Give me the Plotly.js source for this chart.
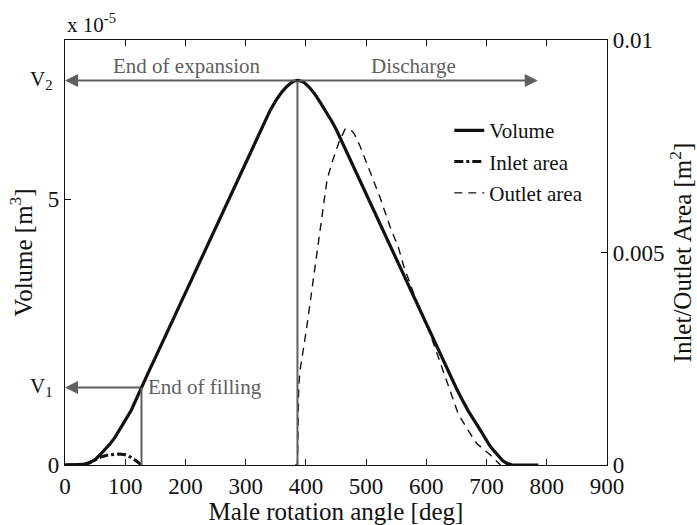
<!DOCTYPE html>
<html>
<head>
<meta charset="utf-8">
<script src="https://cdn.plot.ly/plotly-3.0.1.min.js"></script>
<style>
  html, body { margin: 0; padding: 0; background: #fff; }
  #chart { width: 697px; height: 525px; }
</style>
</head>
<body>
<div id="chart"></div>
<script>
// Male rotor angle [deg] and working-chamber volume [x 1e-5 m^3]
const volAngle = [0, 20, 30, 40, 50, 58, 67, 75, 83, 91, 100, 110, 118, 127, 140, 150, 200, 250, 300, 330, 340,
                  350, 360, 368, 375, 381, 386, 391, 397, 405, 415, 424, 435, 443, 451, 500, 550, 600, 640,
                  650, 660, 670, 684, 695, 705, 712, 720, 727, 734, 742, 750, 786];
const volume_e5 = [0, 0, 0.01, 0.04, 0.10, 0.19, 0.29, 0.40, 0.52, 0.66, 0.84, 1.03, 1.24, 1.46, 1.78, 2.02, 3.25,
                   4.47, 5.70, 6.43, 6.66, 6.86, 7.02, 7.12, 7.19, 7.23, 7.24, 7.23, 7.20, 7.12, 6.98, 6.82, 6.62,
                   6.47, 6.30, 5.10, 3.87, 2.65, 1.67, 1.44, 1.22, 1.01, 0.76, 0.54, 0.37, 0.27, 0.16, 0.08, 0.03,
                   0.005, 0, 0];

// Suction port open area [m^2]
const inletAngle = [0, 30, 40, 50, 60, 70, 80, 90, 100, 110, 118, 124, 127];
const inletArea  = [0, 0.00001, 0.00005, 0.00012, 0.00019, 0.00023, 0.00025, 0.00026, 0.00024, 0.00018,
                    0.0001, 0.00003, 0];

// Discharge port open area [m^2]
const outletAngle = [382, 386, 388, 390, 401, 412, 424, 435, 443, 450, 455, 460, 465, 470, 473, 477, 480, 490,
                     501, 510, 523, 540, 554, 562, 580, 606, 628, 653, 670, 684, 706, 723];
const outletArea  = [0, 0, 0.0018, 0.0022, 0.0032, 0.0043, 0.0056, 0.0067, 0.0071, 0.0074, 0.0076, 0.00775,
                     0.0079, 0.0079, 0.0079, 0.00785, 0.0078, 0.0075, 0.0071, 0.0068, 0.0063, 0.0056, 0.0051,
                     0.0047, 0.0040, 0.0031, 0.0022, 0.0012, 0.0008, 0.0005, 0.00024, 0];

// Key events of the cycle
const endFillingAngle = 127, V1 = 1.46;
const endExpansionAngle = 386, V2 = 7.24;
const dischargeEndAngle = 785;

const serif = 'Liberation Serif, Times New Roman, serif';
const grey = '#5f5f5f';
const ink = '#111';

const traces = [
  { x: volAngle, y: volume_e5, name: 'Volume', legendgroup: 'v', type: 'scatter', mode: 'lines',
    line: { color: ink, width: 3.2 } },
  { x: inletAngle, y: inletArea, name: 'Inlet area', legendgroup: 'i', yaxis: 'y2', type: 'scatter', mode: 'lines',
    line: { color: ink, width: 3, dash: 'dashdot' } },
  { x: outletAngle, y: outletArea, name: 'Outlet area', legendgroup: 'o', yaxis: 'y2', type: 'scatter', mode: 'lines',
    line: { color: ink, width: 1.4, dash: '8px,6px' } }
];

const shapes = [
  { type: 'line', xref: 'x', yref: 'y', x0: endFillingAngle, x1: endFillingAngle, y0: 0, y1: V1,
    line: { color: grey, width: 2 } },
  { type: 'line', xref: 'x', yref: 'y', x0: endExpansionAngle, x1: endExpansionAngle, y0: 0, y1: V2,
    line: { color: grey, width: 2 } }
];

const noteFont = { family: serif, size: 21, color: grey };
const labelFont = { family: serif, size: 21, color: ink };

const annotations = [
  // double arrow along V2: expansion <-> discharge
  { xref: 'x', yref: 'y', axref: 'x', ayref: 'y', x: 0, y: V2, ax: endExpansionAngle, ay: V2,
    text: '', showarrow: true, arrowhead: 2, arrowsize: 1.3, arrowwidth: 2, arrowcolor: grey },
  { xref: 'x', yref: 'y', axref: 'x', ayref: 'y', x: dischargeEndAngle, y: V2, ax: endExpansionAngle, ay: V2,
    text: '', showarrow: true, arrowhead: 2, arrowsize: 1.3, arrowwidth: 2, arrowcolor: grey },
  // arrow along V1: end of filling
  { xref: 'x', yref: 'y', axref: 'x', ayref: 'y', x: 0, y: V1, ax: endFillingAngle, ay: V1,
    text: '', showarrow: true, arrowhead: 2, arrowsize: 1.3, arrowwidth: 2, arrowcolor: grey },
  { xref: 'x', yref: 'y', x: 202, y: V2, yshift: 14, text: 'End of expansion', showarrow: false, font: noteFont },
  { xref: 'x', yref: 'y', x: 578, y: V2, yshift: 14, text: 'Discharge', showarrow: false, font: noteFont },
  { xref: 'x', yref: 'y', x: 134, y: V1, xanchor: 'left', text: 'End of filling', showarrow: false, font: noteFont },
  // level labels and exponent
  { xref: 'paper', yref: 'y', x: 0, y: V2, xanchor: 'right', xshift: -10, text: 'V<sub>2</sub>', showarrow: false,
    font: labelFont },
  { xref: 'paper', yref: 'y', x: 0, y: V1, xanchor: 'right', xshift: -10, text: 'V<sub>1</sub>', showarrow: false,
    font: labelFont },
  { xref: 'paper', yref: 'paper', x: 0, y: 1, xanchor: 'left', yanchor: 'bottom', yshift: 1,
    text: 'x 10<sup>-5</sup>', showarrow: false, font: labelFont }
];

const axisCommon = {
  showgrid: false, zeroline: false, showline: true, linecolor: ink, linewidth: 1.2,
  ticks: 'inside', ticklen: 6, tickcolor: ink, automargin: false,
  tickfont: { family: serif, size: 23, color: ink }
};
const titleFont = { family: serif, size: 25, color: ink };

const layout = {
  width: 697, height: 525,
  margin: { l: 65, r: 90, t: 40, b: 60 },
  paper_bgcolor: '#fff', plot_bgcolor: '#fff',
  font: { family: serif, color: ink },
  showlegend: true,
  legend: { x: 0.709, y: 0.835, xanchor: 'left', yanchor: 'top', bgcolor: 'rgba(0,0,0,0)',
            font: { family: serif, size: 21, color: ink }, tracegroupgap: 1 },
  xaxis: Object.assign({}, axisCommon, {
    range: [0, 900], tickvals: [0, 100, 200, 300, 400, 500, 600, 700, 800, 900], mirror: 'ticks',
    title: { text: 'Male rotation angle [deg]', font: titleFont, standoff: 2 }
  }),
  yaxis: Object.assign({}, axisCommon, {
    range: [0, 8], tickvals: [0, 5], ticktext: ['0', '5'],
    title: { text: 'Volume [m<sup>3</sup>]', font: titleFont, standoff: 8 }
  }),
  yaxis2: Object.assign({}, axisCommon, {
    overlaying: 'y', side: 'right', range: [0, 0.01],
    tickvals: [0, 0.005, 0.01], ticktext: ['0', '0.005', '0.01'],
    title: { text: 'Inlet/Outlet Area [m<sup>2</sup>]', font: titleFont, standoff: 0 }
  }),
  shapes: shapes,
  annotations: annotations
};

Plotly.newPlot('chart', traces, layout, { displayModeBar: false, staticPlot: true });
</script>
</body>
</html>
